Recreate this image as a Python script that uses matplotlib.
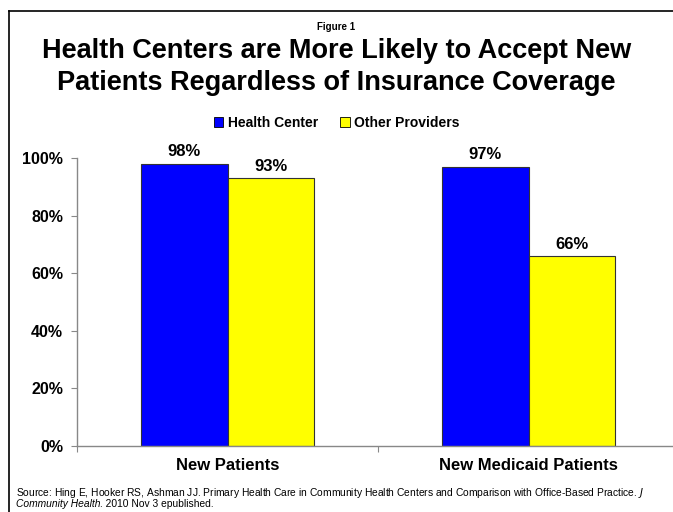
import numpy as np
import matplotlib as mpl
mpl.use('Agg')
import matplotlib.pyplot as plt
from matplotlib.patches import Patch
from matplotlib.lines import Line2D

plt.rcParams['font.family'] = ['Liberation Sans', 'DejaVu Sans']

categories = ["New Patients", "New Medicaid Patients"]
series_names = ["Health Center", "Other Providers"]
health_center = [0.98, 0.97]
other_providers = [0.93, 0.66]
yticks = [0, 0.2, 0.4, 0.6, 0.8, 1.0]
ytick_labels = ["0%", "20%", "40%", "60%", "80%", "100%"]

blue = "#0000FF"
yellow = "#FFFF00"

fig = plt.figure(figsize=(6.73, 5.12), dpi=100)

# frame round the slide (top and left only visible)
fig.add_artist(Line2D([9/673, 9/673], [0, 1 - 11/512], color='black', lw=1.2,
                      transform=fig.transFigure))
fig.add_artist(Line2D([9/673, 1], [1 - 11/512, 1 - 11/512], color='black', lw=1.2,
                      transform=fig.transFigure))

ax = fig.add_axes([77/673, 66/512, 602/673, 288/512])

x = np.arange(len(categories))
w = 0.286
b1 = ax.bar(x - w/2, health_center, w, color=blue, edgecolor='#333333', linewidth=0.8)
b2 = ax.bar(x + w/2, other_providers, w, color=yellow, edgecolor='#333333', linewidth=0.8)

for bars, vals in ((b1, health_center), (b2, other_providers)):
    for r, v in zip(bars, vals):
        ax.text(r.get_x() + r.get_width()/2, v + 0.015, "{:.0f}%".format(v*100),
                ha='center', va='bottom', fontsize=12, fontweight='bold')

ax.set_xlim(-0.5, 1.5)
ax.set_ylim(0, 1.0)
ax.set_yticks(yticks)
ax.set_yticklabels(ytick_labels, fontsize=11.5, fontweight='bold')
ax.set_xticks([-0.5, 0.5, 1.5])
ax.set_xticklabels([])
ax.set_xticks(x, minor=True)
ax.set_xticklabels(categories, minor=True, fontsize=12, fontweight='bold')
ax.tick_params(axis='x', which='minor', length=0, pad=9)
ax.tick_params(axis='x', which='major', length=4, color='#888888', direction='out')
ax.tick_params(axis='y', length=4, color='#888888', pad=6)
for s in ('top', 'right'):
    ax.spines[s].set_visible(False)
for s in ('left', 'bottom'):
    ax.spines[s].set_color('#888888')
    ax.spines[s].set_linewidth(1.0)

fig.text(0.5, 1 - 27/512, "Figure 1", ha='center', va='center', fontsize=7, fontweight='bold')
fig.text(0.5, 1 - 67/512, "Health Centers are More Likely to Accept New\nPatients Regardless of Insurance Coverage",
         ha='center', va='center', fontsize=19.5, fontweight='bold', linespacing=1.35)

handles = [Patch(facecolor=blue, edgecolor='black', linewidth=0.6),
           Patch(facecolor=yellow, edgecolor='black', linewidth=0.6)]
fig.legend(handles, series_names, loc='center', bbox_to_anchor=(0.5, 1 - 123/512), ncol=2,
           frameon=False, prop={'size': 10, 'weight': 'bold'}, handlelength=0.7, handleheight=0.7,
           handletextpad=0.3, columnspacing=1.6)

fig.text(16/673, 1 - 493/512,
         "Source: Hing E, Hooker RS, Ashman JJ. Primary Health Care in Community Health Centers and Comparison with Office-Based Practice. $\\it{J}$",
         ha='left', va='center', fontsize=7.4)
t1 = fig.text(16/673, 1 - 504/512, "Community Health", ha='left', va='center', fontsize=7.4, style='italic')
fig.canvas.draw()
bb = t1.get_window_extent(renderer=fig.canvas.get_renderer())
fig.text(bb.x1 / fig.bbox.width, 1 - 504/512, ". 2010 Nov 3 epublished.", ha='left', va='center', fontsize=7.4)

fig.savefig("out.png", dpi=100)
